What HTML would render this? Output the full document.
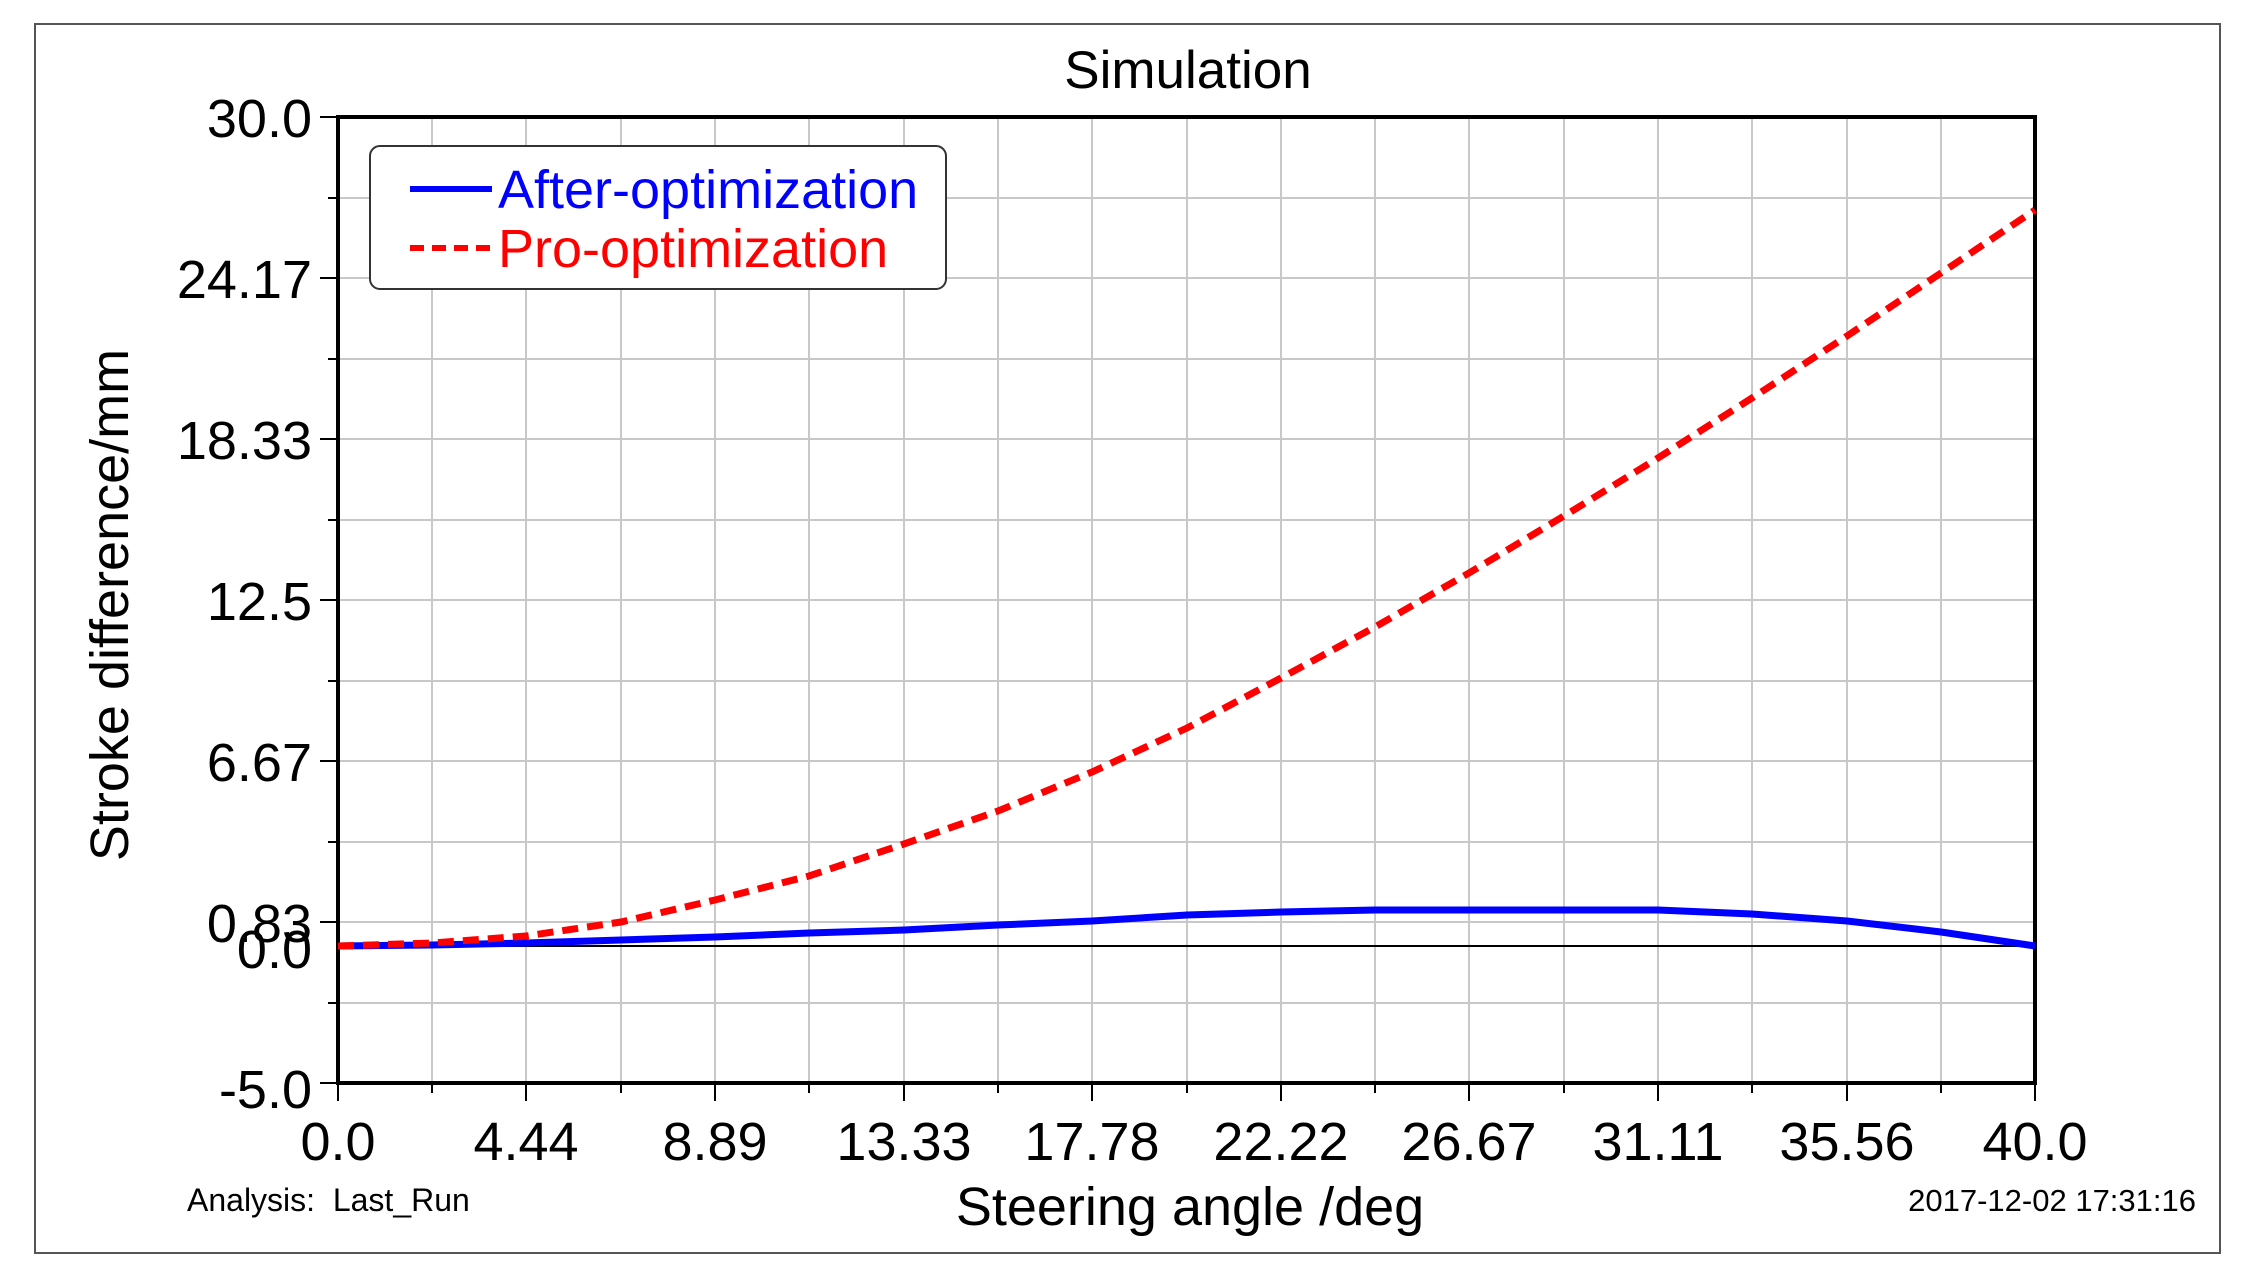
<!DOCTYPE html>
<html><head><meta charset="utf-8"><style>
html,body{margin:0;padding:0;background:#fff;}
svg{display:block;font-family:"Liberation Sans",Arial,sans-serif;}
</style></head><body>
<svg width="2247" height="1278" viewBox="0 0 2247 1278" xmlns="http://www.w3.org/2000/svg">
<rect x="0" y="0" width="2247" height="1278" fill="#fff"/>
<rect x="35" y="24" width="2185" height="1229" fill="none" stroke="#555" stroke-width="2"/>
<g stroke="#c8c8c8" stroke-width="2">
<line x1="432" y1="117" x2="432" y2="1083"/><line x1="526" y1="117" x2="526" y2="1083"/>
<line x1="621" y1="117" x2="621" y2="1083"/><line x1="715" y1="117" x2="715" y2="1083"/>
<line x1="809" y1="117" x2="809" y2="1083"/><line x1="904" y1="117" x2="904" y2="1083"/>
<line x1="998" y1="117" x2="998" y2="1083"/><line x1="1092" y1="117" x2="1092" y2="1083"/>
<line x1="1187" y1="117" x2="1187" y2="1083"/><line x1="1281" y1="117" x2="1281" y2="1083"/>
<line x1="1375" y1="117" x2="1375" y2="1083"/><line x1="1469" y1="117" x2="1469" y2="1083"/>
<line x1="1564" y1="117" x2="1564" y2="1083"/><line x1="1658" y1="117" x2="1658" y2="1083"/>
<line x1="1752" y1="117" x2="1752" y2="1083"/><line x1="1847" y1="117" x2="1847" y2="1083"/>
<line x1="1941" y1="117" x2="1941" y2="1083"/>
<line x1="338" y1="198" x2="2035" y2="198"/><line x1="338" y1="278" x2="2035" y2="278"/>
<line x1="338" y1="359" x2="2035" y2="359"/><line x1="338" y1="439" x2="2035" y2="439"/>
<line x1="338" y1="520" x2="2035" y2="520"/><line x1="338" y1="600" x2="2035" y2="600"/>
<line x1="338" y1="681" x2="2035" y2="681"/><line x1="338" y1="761" x2="2035" y2="761"/>
<line x1="338" y1="842" x2="2035" y2="842"/><line x1="338" y1="922" x2="2035" y2="922"/>
<line x1="338" y1="1003" x2="2035" y2="1003"/>
</g>
<line x1="338" y1="946" x2="2035" y2="946" stroke="#000" stroke-width="2"/>
<rect x="338" y="117" width="1697" height="966" fill="none" stroke="#000" stroke-width="4"/>
<g stroke="#000" stroke-width="2">
<line x1="320" y1="117" x2="338" y2="117"/><line x1="328" y1="198" x2="338" y2="198"/>
<line x1="320" y1="278" x2="338" y2="278"/><line x1="328" y1="359" x2="338" y2="359"/>
<line x1="320" y1="439" x2="338" y2="439"/><line x1="328" y1="520" x2="338" y2="520"/>
<line x1="320" y1="600" x2="338" y2="600"/><line x1="328" y1="681" x2="338" y2="681"/>
<line x1="320" y1="761" x2="338" y2="761"/><line x1="328" y1="842" x2="338" y2="842"/>
<line x1="320" y1="922" x2="338" y2="922"/><line x1="328" y1="1003" x2="338" y2="1003"/>
<line x1="320" y1="1083" x2="338" y2="1083"/>
<line x1="338" y1="1083" x2="338" y2="1101"/><line x1="432" y1="1083" x2="432" y2="1093"/>
<line x1="526" y1="1083" x2="526" y2="1101"/><line x1="621" y1="1083" x2="621" y2="1093"/>
<line x1="715" y1="1083" x2="715" y2="1101"/><line x1="809" y1="1083" x2="809" y2="1093"/>
<line x1="904" y1="1083" x2="904" y2="1101"/><line x1="998" y1="1083" x2="998" y2="1093"/>
<line x1="1092" y1="1083" x2="1092" y2="1101"/><line x1="1187" y1="1083" x2="1187" y2="1093"/>
<line x1="1281" y1="1083" x2="1281" y2="1101"/><line x1="1375" y1="1083" x2="1375" y2="1093"/>
<line x1="1469" y1="1083" x2="1469" y2="1101"/><line x1="1564" y1="1083" x2="1564" y2="1093"/>
<line x1="1658" y1="1083" x2="1658" y2="1101"/><line x1="1752" y1="1083" x2="1752" y2="1093"/>
<line x1="1847" y1="1083" x2="1847" y2="1101"/><line x1="1941" y1="1083" x2="1941" y2="1093"/>
<line x1="2035" y1="1083" x2="2035" y2="1101"/>
</g>
<polyline fill="none" stroke="#0000ff" stroke-width="7" stroke-linejoin="round"
points="338,946 432,945 526,943 621,940 715,937 809,933 904,930 998,925 1092,921 1187,915 1281,912 1375,910 1469,910 1564,910 1658,910 1752,914 1847,921 1941,932 2035,946"/>
<polyline fill="none" stroke="#ff0000" stroke-width="7" stroke-dasharray="16,9"
points="338,946 432,943 526,936 621,922 715,900 809,876 904,844 998,811 1092,772 1187,728 1281,678 1375,627 1469,573 1564,516 1658,458 1752,398 1847,336 1941,273 2035,210"/>
<rect x="370" y="146" width="576" height="143" rx="10" fill="#fff" stroke="#333" stroke-width="2"/>
<line x1="410" y1="189" x2="492" y2="189" stroke="#0000ff" stroke-width="6"/>
<line x1="410" y1="248" x2="492" y2="248" stroke="#ff0000" stroke-width="6" stroke-dasharray="14,8"/>
<text x="498" y="208" font-size="54" fill="#0000ff">After-optimization</text>
<text x="498" y="267" font-size="54" fill="#ff0000">Pro-optimization</text>
<text x="1188" y="88" font-size="53" text-anchor="middle">Simulation</text>
<g font-size="54" text-anchor="end">
<text x="312" y="137">30.0</text><text x="312" y="298">24.17</text>
<text x="312" y="459">18.33</text><text x="312" y="620">12.5</text>
<text x="312" y="781">6.67</text><text x="312" y="942">0.83</text>
<text x="312" y="968">0.0</text><text x="312" y="1108">-5.0</text>
</g>
<g font-size="54" text-anchor="middle">
<text x="338" y="1160">0.0</text><text x="526" y="1160">4.44</text>
<text x="715" y="1160">8.89</text><text x="904" y="1160">13.33</text>
<text x="1092" y="1160">17.78</text><text x="1281" y="1160">22.22</text>
<text x="1469" y="1160">26.67</text><text x="1658" y="1160">31.11</text>
<text x="1847" y="1160">35.56</text><text x="2035" y="1160">40.0</text>
</g>
<text x="1190" y="1225" font-size="54" text-anchor="middle">Steering angle /deg</text>
<text transform="translate(128,605) rotate(-90)" font-size="54" text-anchor="middle">Stroke difference/mm</text>
<text x="187" y="1211" font-size="32" xml:space="preserve">Analysis:  Last_Run</text>
<text x="2196" y="1211" font-size="31" text-anchor="end">2017-12-02 17:31:16</text>
</svg>
</body></html>
